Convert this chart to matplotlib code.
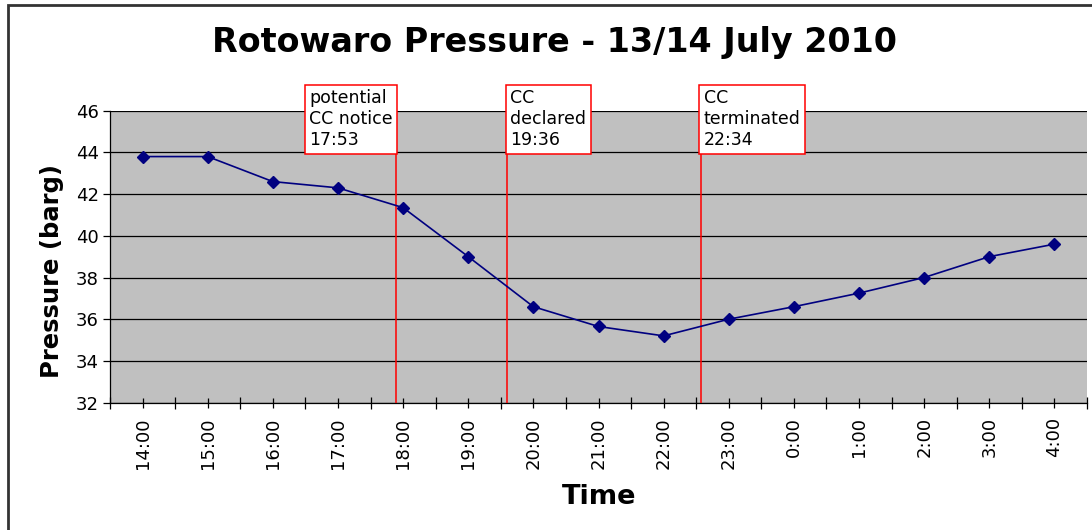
import matplotlib
matplotlib.use('Agg')
import matplotlib.pyplot as plt
from matplotlib.patches import Rectangle
from matplotlib.transforms import blended_transform_factory

# data
times = ['14:00', '15:00', '16:00', '17:00', '18:00', '19:00', '20:00', '21:00',
         '22:00', '23:00', '0:00', '1:00', '2:00', '3:00', '4:00']
pressure = [43.8, 43.8, 42.6, 42.3, 41.35, 39.0, 36.6, 35.65,
            35.2, 36.0, 36.6, 37.25, 38.0, 39.0, 39.6]

event_times = ['17:53', '19:36', '22:34']
event_labels = ['potential\nCC notice\n17:53', 'CC\ndeclared\n19:36', 'CC\nterminated\n22:34']
event_side = ['left', 'right', 'right']

yticks = [32, 34, 36, 38, 40, 42, 44, 46]

W, H = 1092, 530
fig = plt.figure(figsize=(W / 100, H / 100), dpi=100)
ax = fig.add_axes([110 / W, 1 - 402.6 / H, 977 / W, 291.9 / H])
ax.set_facecolor('#C0C0C0')

x = list(range(len(times)))
ax.plot(x, pressure, color='#000080', lw=1.2, marker='D', ms=5.8, zorder=5)

ax.set_xlim(-0.5, len(times) - 0.5)
ax.set_ylim(yticks[0], yticks[-1])
ax.set_yticks(yticks)
ax.grid(axis='y', color='black', lw=0.9)
ax.set_axisbelow(True)

# labels at category centres, extra ticks at the boundaries
ax.set_xticks(x)
ax.set_xticklabels(times, rotation=90)
ax.set_xticks([i - 0.5 for i in range(len(times) + 1)], minor=True)
ax.tick_params(axis='x', which='major', direction='inout', length=7, width=0.9, pad=7, labelsize=13)
ax.tick_params(axis='x', which='minor', direction='inout', length=8, width=0.9)
ax.tick_params(axis='y', direction='out', length=5, width=0.9, labelsize=13, pad=3)

for s in ['top', 'right']:
    ax.spines[s].set_visible(False)
for s in ['left', 'bottom']:
    ax.spines[s].set_color('black')
    ax.spines[s].set_linewidth(0.9)

ax.set_ylabel('Pressure (barg)', fontsize=17.5, fontweight='bold')
ax.yaxis.set_label_coords(-0.047, 0.45)
ax.set_xlabel('Time', fontsize=19.5, fontweight='bold')
ax.xaxis.set_label_coords(0.5005, -0.323)
ax.xaxis.label.set_va('center')

fig.text(0.508, 0.919, 'Rotowaro Pressure - 13/14 July 2010',
         fontsize=24, fontweight='bold', ha='center', va='center')

# event lines with their text boxes
trans = blended_transform_factory(ax.transData, ax.transAxes)
for t, lab, side in zip(event_times, event_labels, event_side):
    hh, mm = t.split(':')
    pos = int(hh) + int(mm) / 60 - 14
    ax.axvline(pos, color='red', lw=1.1, zorder=4)
    off = -3 if side == 'left' else 3
    ax.annotate(lab, xy=(pos, 1.0846), xycoords=trans, xytext=(off, -3),
                textcoords='offset pixels', ha='right' if side == 'left' else 'left',
                va='top', multialignment='left', fontsize=12.5, linespacing=1.22,
                annotation_clip=False, zorder=6,
                bbox=dict(boxstyle='square,pad=0.25', fc='white', ec='red', lw=1.1))

fig.patches.append(Rectangle((8 / W, -0.05), 1.2, (H - 5) / H + 0.05,
                             transform=fig.transFigure, fill=False,
                             ec='#333333', lw=2))

fig.savefig('out.png', dpi=100)
